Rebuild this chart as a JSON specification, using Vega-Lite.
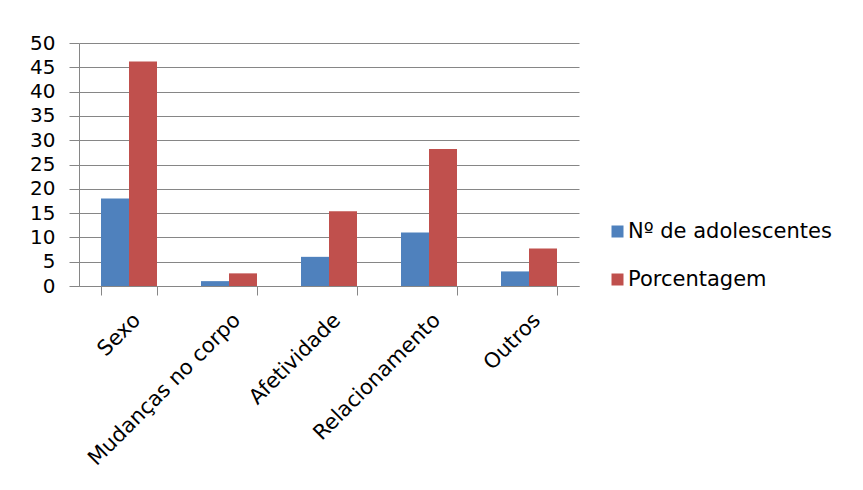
{
  "$schema": "https://vega.github.io/schema/vega-lite/v6.json",
  "width": 500,
  "height": 243,
  "padding": {"left": 29, "top": 33, "right": 5, "bottom": 5},
  "background": "white",
  "config": {
    "view": {"stroke": null},
    "font": "DejaVu Sans"
  },
  "data": {
    "values": [
      {"tema": "Sexo", "serie": "Nº de adolescentes", "valor": 18},
      {"tema": "Sexo", "serie": "Porcentagem", "valor": 46.2},
      {"tema": "Mudanças no corpo", "serie": "Nº de adolescentes", "valor": 1},
      {"tema": "Mudanças no corpo", "serie": "Porcentagem", "valor": 2.6},
      {"tema": "Afetividade", "serie": "Nº de adolescentes", "valor": 6},
      {"tema": "Afetividade", "serie": "Porcentagem", "valor": 15.4},
      {"tema": "Relacionamento", "serie": "Nº de adolescentes", "valor": 11},
      {"tema": "Relacionamento", "serie": "Porcentagem", "valor": 28.2},
      {"tema": "Outros", "serie": "Nº de adolescentes", "valor": 3},
      {"tema": "Outros", "serie": "Porcentagem", "valor": 7.7}
    ]
  },
  "mark": {"type": "bar"},
  "encoding": {
    "x": {
      "field": "tema",
      "type": "nominal",
      "sort": ["Sexo", "Mudanças no corpo", "Afetividade", "Relacionamento", "Outros"],
      "scale": {"paddingInner": 0.44, "paddingOuter": 0.22},
      "axis": {
        "title": null,
        "labelAngle": -45,
        "labelFontSize": 21,
        "labelColor": "#000000",
        "labelPadding": 14,
        "labelLimit": 0,
        "domainColor": "#868686",
        "tickColor": "#868686",
        "tickBand": "extent",
        "tickSize": 9,
        "grid": false
      }
    },
    "xOffset": {
      "field": "serie",
      "type": "nominal",
      "sort": ["Nº de adolescentes", "Porcentagem"],
      "scale": {"paddingInner": 0, "paddingOuter": 0}
    },
    "y": {
      "field": "valor",
      "type": "quantitative",
      "scale": {"domain": [0, 50], "nice": false},
      "axis": {
        "title": null,
        "values": [0, 5, 10, 15, 20, 25, 30, 35, 40, 45, 50],
        "labelFontSize": 20,
        "labelColor": "#000000",
        "labelPadding": 14,
        "tickSize": 10,
        "tickColor": "#868686",
        "domainColor": "#868686",
        "gridColor": "#868686",
        "gridWidth": 1
      }
    },
    "color": {
      "field": "serie",
      "type": "nominal",
      "sort": ["Nº de adolescentes", "Porcentagem"],
      "scale": {"range": ["#4F81BD", "#C0504D"]},
      "legend": {
        "title": null,
        "orient": "none",
        "legendX": 528,
        "legendY": 178,
        "symbolType": "square",
        "symbolSize": 144,
        "symbolStrokeWidth": 0,
        "labelFontSize": 21,
        "labelLimit": 0,
        "labelColor": "#000000",
        "labelOffset": 0,
        "rowPadding": 26
      }
    }
  }
}
